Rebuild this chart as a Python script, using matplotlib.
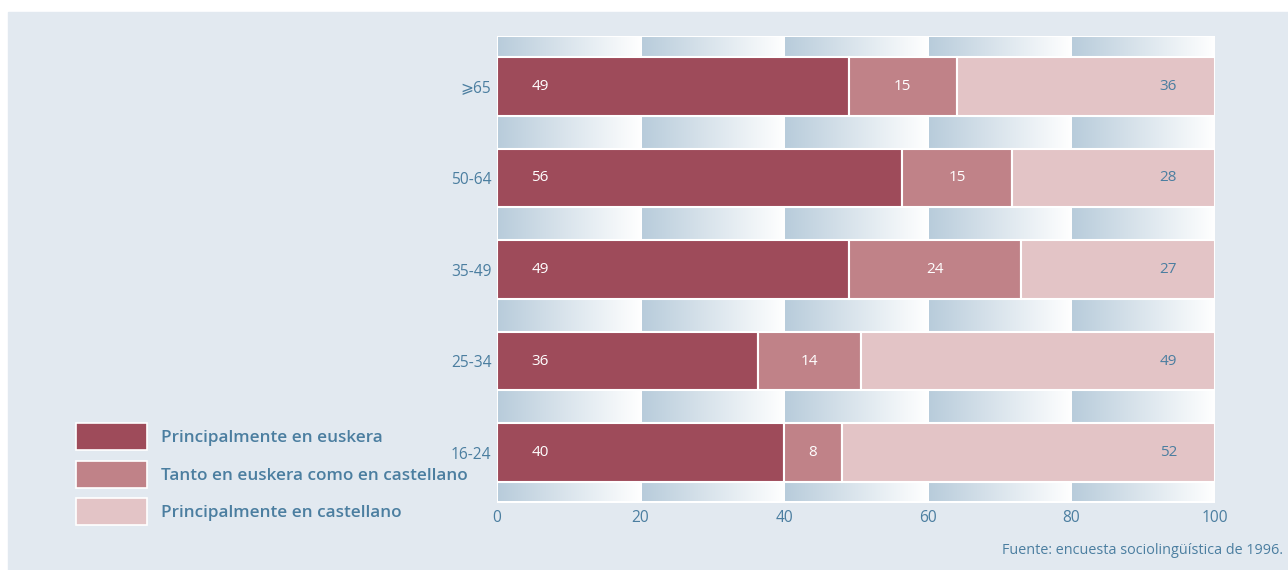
import matplotlib.pyplot as plt
import numpy as np
from matplotlib.patches import Rectangle
from matplotlib.colors import LinearSegmentedColormap

plt.rcParams['font.family'] = ['Open Sans', 'DejaVu Sans']

edades = ["⩾65", "50-64", "35-49", "25-34", "16-24"]
euskera = [49.0, 56.4, 49.0, 36.4, 40.0]
ambos = [15.0, 15.3, 24.0, 14.3, 8.0]
castellano = [36.0, 28.3, 27.0, 49.3, 52.0]
etiquetas = ["Principalmente en euskera", "Tanto en euskera como en castellano",
             "Principalmente en castellano"]
ticks_x = [0, 20, 40, 60, 80, 100]

colores = ["#9e4b5a", "#c08288", "#e3c4c6"]
azul_txt = "#4b7ea0"
fondo = "#e2e9f0"

fig = plt.figure(figsize=(12.88, 5.70), dpi=100)
fig.patches.append(Rectangle((8 / 1288, 0), 1, 1 - 12 / 570, transform=fig.transFigure,
                             color=fondo, zorder=-10))

ax = fig.add_axes([497 / 1288, 1 - 503 / 570, 718 / 1288, 467 / 570])
ax.set_facecolor("white")
ax.set_xlim(0, 100)
ax.set_ylim(4.55, -0.55)

# columnas con degradado
cmap = LinearSegmentedColormap.from_list("grad", ["#b8ccdb", "#ffffff"])
grad = np.linspace(0, 1, 256).reshape(1, -1)
for x0 in ticks_x[:-1]:
    ax.imshow(grad, cmap=cmap, aspect="auto", extent=(x0 + 0.15, x0 + 20, 4.53, -0.53),
              zorder=0)

y = np.arange(len(edades))
izq2 = np.array(euskera)
izq3 = izq2 + np.array(ambos)
ax.barh(y, euskera, height=0.64, color=colores[0], edgecolor="white", linewidth=1.5, zorder=2)
ax.barh(y, ambos, left=izq2, height=0.64, color=colores[1], edgecolor="white", linewidth=1.5, zorder=2)
ax.barh(y, castellano, left=izq3, height=0.64, color=colores[2], edgecolor="white", linewidth=1.5, zorder=2)

for i in range(len(edades)):
    ax.text(6, y[i], str(round(euskera[i])), color="white", fontsize=11, va="center", ha="center", zorder=3)
    ax.text(izq2[i] + ambos[i] / 2, y[i], str(round(ambos[i])), color="white", fontsize=11,
            va="center", ha="center", zorder=3)
    ax.text(93.5, y[i], str(round(castellano[i])), color=azul_txt, fontsize=11,
            va="center", ha="center", zorder=3)

ax.set_yticks(y)
ax.set_yticklabels(edades, fontsize=11.2, color=azul_txt)
ax.set_xticks(ticks_x)
ax.set_xticklabels([str(t) for t in ticks_x], fontsize=11.2, color=azul_txt)
ax.tick_params(length=0, pad=5)
ax.tick_params(axis="y", pad=4)
for s in ax.spines.values():
    s.set_visible(False)

# leyenda
for i, (c, t) in enumerate(zip(colores, etiquetas)):
    ytop = [423, 461, 498][i]
    fig.patches.append(Rectangle((76 / 1288, 1 - (ytop + 27) / 570), 71 / 1288, 27 / 570,
                                 transform=fig.transFigure, facecolor=c, edgecolor="white",
                                 linewidth=1.2))
    fig.text(161 / 1288, 1 - (ytop + 15) / 570, t, fontsize=12.3, fontweight="semibold",
             color=azul_txt, va="center", ha="left")

fig.text(1283 / 1288, 1 - 550 / 570, "Fuente: encuesta sociolingüística de 1996.",
         fontsize=10.4, color=azul_txt, ha="right", va="center")

plt.savefig("out.png", dpi=100)
